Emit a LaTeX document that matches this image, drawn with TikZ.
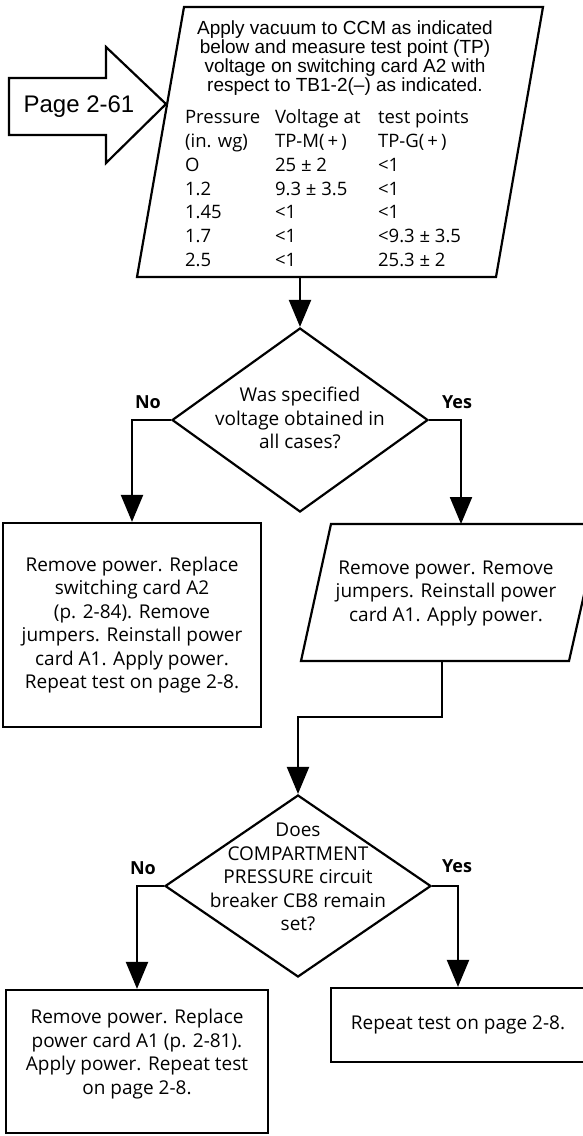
\documentclass[tikz,border=0pt]{standalone}
\usepackage{fontspec}
\setmainfont{Open Sans}
\newfontfamily\helv{Liberation Sans}
\usetikzlibrary{arrows.meta,shapes.geometric}
\begin{document}
\begin{tikzpicture}[x=1pt,y=-1pt,
  line width=2.2pt,
  arr/.style={-{Triangle[length=27pt,width=22pt]}},
  box/.style={draw, rectangle, inner sep=0pt, align=center, font=\fontsize{19}{23.5}\selectfont},
  dia/.style={draw, diamond, inner sep=0pt},
  txt/.style={inner sep=0pt, align=center, font=\fontsize{19}{23.5}\selectfont},
  lbl/.style={inner sep=0pt, font=\fontsize{18}{20}\selectfont\bfseries},
  htxt/.style={inner sep=0pt, align=center, font=\helv\fontsize{19}{19}\selectfont},
]
\useasboundingbox (0,0) rectangle (583,1136);

% top parallelogram
\coordinate (pTL) at (184,7);
\coordinate (pTR) at (543,7);
\coordinate (pBR) at (496,277);
\coordinate (pBL) at (137,277);
\draw (pTL) -- (pTR) -- (pBR) -- (pBL) -- cycle;
\node[htxt] (hdr) at (345,58.5) {Apply vacuum to CCM as indicated\\below and measure test point (TP)\\voltage on switching card A2 with\\respect to TB1-2(–) as indicated.};
\node[anchor=north west, inner sep=0pt, font=\fontsize{18.5}{23.8}\selectfont] (tbl) at (184,106) {%
\begin{tabular}{@{}p{90pt}@{}p{103pt}@{}l@{}}
Pressure & Voltage at & test points\\
(in. wg) & TP-M(\,+\,) & TP-G(\,+\,)\\
O & 25 ± 2 & <1\\
1.2 & 9.3 ± 3.5 & <1\\
1.45 & <1 & <1\\
1.7 & <1 & <9.3 ± 3.5\\
2.5 & <1 & 25.3 ± 2
\end{tabular}};

% page arrow
\coordinate (tip) at (166,104);
\draw (9,78) -- (106,78) -- (106,47) -- (tip) -- (106,163) -- (106,135) -- (9,135) -- cycle;
\node[inner sep=0pt, font=\helv\fontsize{24}{24}\selectfont] (pg) at (79,107) {Page 2-61};

% first decision
\node[dia, minimum width=256pt, minimum height=184pt] (d1) at (300,420) {};
\node[txt] (d1t) at (300,418) {Was specified\\voltage obtained in\\all cases?};
\node[lbl] (no1) at (148,402) {No};
\node[lbl] (yes1) at (457,402) {Yes};
\coordinate (pOut) at (300,277);
\draw[arr] (pOut) -- (d1.north);

% left box
\node[box, minimum width=258pt, minimum height=204pt] (b1) at (132,625) {Remove power. Replace\\switching card A2\\(p. 2-84). Remove\\jumpers. Reinstall power\\card A1. Apply power.\\Repeat test on page 2-8.};
\draw[arr] (d1.west) -| (b1.north);

% right parallelogram
\coordinate (qTL) at (331,524);
\coordinate (qTR) at (600,524);
\coordinate (qBR) at (569,661);
\coordinate (qBL) at (301,661);
\draw (qTL) -- (qTR) -- (qBR) -- (qBL) -- cycle;
\node[txt] (p2t) at (446,593) {Remove power. Remove\\jumpers. Reinstall power\\card A1. Apply power.};
\coordinate (qIn) at (461,524);
\draw[arr] (d1.east) -| (qIn);

% second decision
\node[dia, minimum width=266pt, minimum height=182pt] (d2) at (298,886) {};
\node[txt] (d2t) at (298,877) {Does\\COMPARTMENT\\PRESSURE circuit\\breaker CB8 remain\\set?};
\node[lbl] (no2) at (143,868) {No};
\node[lbl] (yes2) at (457,866) {Yes};
\coordinate (qOut) at (442,661);
\coordinate (bend) at (298,717);
\draw[arr] (qOut) |- (bend) -- (d2.north);

% bottom boxes
\node[box, minimum width=262pt, minimum height=143pt] (b3) at (137,1061.5) {};
\node[txt] (b3t) at (137,1054) {Remove power. Replace\\power card A1 (p. 2-81).\\Apply power. Repeat test\\on page 2-8.};
\draw[arr] (d2.west) -| (b3.north);
\node[box, minimum width=254pt, minimum height=74pt] (b4) at (458,1025) {Repeat test on page 2-8.};
\draw[arr] (d2.east) -| (b4.north);
\end{tikzpicture}
\end{document}
